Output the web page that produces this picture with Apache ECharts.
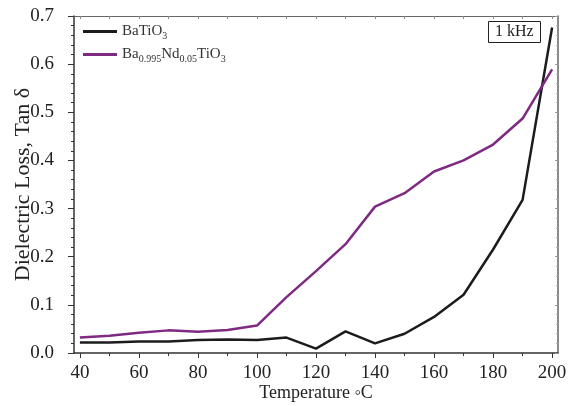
<!DOCTYPE html>
<html>
<head>
<meta charset="utf-8">
<script src="https://cdn.jsdelivr.net/npm/echarts@6/dist/echarts.min.js"></script>
<style>
  html, body { margin: 0; padding: 0; background: #fff; }
  #chart { width: 570px; height: 406px; }
</style>
</head>
<body>
<div id="chart"></div>
<script>
const temps = [40, 50, 60, 70, 80, 90, 100, 110, 120, 130, 140, 150, 160, 170, 180, 190, 200];
const batio3 = [0.022, 0.022, 0.024, 0.024, 0.027, 0.028, 0.027, 0.032, 0.009, 0.045, 0.020, 0.040, 0.075, 0.121, 0.215, 0.318, 0.676];
const ndDoped = [0.032, 0.036, 0.042, 0.047, 0.044, 0.048, 0.057, 0.116, 0.170, 0.226, 0.304, 0.332, 0.377, 0.400, 0.433, 0.487, 0.589];
const xMajorTicks = [40, 60, 80, 100, 120, 140, 160, 180, 200];
const xMinorTicks = [50, 70, 90, 110, 130, 150, 170, 190];
const xAllTicks = [40, 50, 60, 70, 80, 90, 100, 110, 120, 130, 140, 150, 160, 170, 180, 190, 200];
const seriesNames = ['BaTiO3', 'Ba0.995Nd0.05TiO3'];

const font = 'Liberation Serif, Times New Roman, serif';
const axisColor = '#333';

const chart = echarts.init(document.getElementById('chart'));

const legendLabels = {
  'BaTiO3': 'BaTiO{sub|3}',
  'Ba0.995Nd0.05TiO3': 'Ba{sub|0.995}Nd{sub|0.05}TiO{sub|3}'
};

const option = {
  animation: false,
  title: {
    text: '1 kHz',
    left: 488,
    top: 21,
    padding: [2, 7, 3, 7],
    borderColor: '#222',
    borderWidth: 1,
    textStyle: { fontFamily: font, fontSize: 16, fontWeight: 'normal', color: '#222', lineHeight: 17 }
  },
  legend: {
    orient: 'vertical',
    left: 78,
    top: 19,
    itemGap: 6,
    icon: 'rect',
    itemWidth: 34,
    itemHeight: 3,
    data: seriesNames,
    formatter: name => legendLabels[name],
    textStyle: {
      fontFamily: font,
      fontSize: 15,
      color: '#333',
      rich: {
        sub: { fontFamily: font, fontSize: 10, color: '#333', padding: [9, 0, 0, 0] }
      }
    }
  },
  grid: { left: 74, right: 12, top: 16, bottom: 53, outerBoundsMode: 'none', containLabel: false },
  xAxis: [
    {
      type: 'value',
      min: 38,
      max: 202,
      name: 'Temperature ◦C',
      nameLocation: 'middle',
      nameGap: 31,
      nameMoveOverlap: false,
      nameTextStyle: { fontFamily: font, fontSize: 18, color: '#222' },
      axisLine: { lineStyle: { color: axisColor, width: 1.5 } },
      axisTick: { customValues: xMajorTicks, length: 5, lineStyle: { color: axisColor } },
      axisLabel: { customValues: xMajorTicks, fontFamily: font, fontSize: 19, color: '#222', margin: 11 },
      splitLine: { show: false }
    },
    {
      type: 'value',
      min: 38,
      max: 202,
      position: 'bottom',
      axisLine: { show: false },
      axisTick: { customValues: xMinorTicks, length: 3, lineStyle: { color: axisColor } },
      axisLabel: { show: false },
      splitLine: { show: false }
    },
    {
      type: 'value',
      min: 38,
      max: 202,
      position: 'top',
      axisLine: { lineStyle: { color: '#666', width: 1 } },
      axisTick: { customValues: xAllTicks, inside: true, length: 3, lineStyle: { color: '#888' } },
      axisLabel: { show: false },
      splitLine: { show: false }
    }
  ],
  yAxis: [
    {
      type: 'value',
      min: 0,
      max: 0.7,
      interval: 0.1,
      name: 'Dielectric Loss, Tan δ',
      nameLocation: 'middle',
      nameGap: 40,
      nameMoveOverlap: false,
      nameTextStyle: { fontFamily: font, fontSize: 22, color: '#222' },
      axisLine: { show: true, lineStyle: { color: axisColor, width: 1.5 } },
      axisTick: { show: true, length: 6, lineStyle: { color: axisColor } },
      minorTick: { show: true, splitNumber: 5, length: 3, lineStyle: { color: axisColor } },
      axisLabel: { fontFamily: font, fontSize: 19, color: '#222', margin: 20, formatter: v => v.toFixed(1) },
      splitLine: { show: false }
    },
    {
      type: 'value',
      min: 0,
      max: 0.7,
      interval: 0.1,
      position: 'right',
      axisLine: { show: true, lineStyle: { color: '#666', width: 1.5 } },
      axisTick: { show: true, inside: true, length: 3, lineStyle: { color: '#999' } },
      minorTick: { show: true, splitNumber: 5, length: 2, lineStyle: { color: '#aaa' } },
      axisLabel: { show: false },
      splitLine: { show: false }
    }
  ],
  series: [
    {
      name: seriesNames[0],
      type: 'line',
      symbol: 'none',
      color: '#1c1c1c',
      lineStyle: { width: 2.5 },
      data: temps.map((t, i) => [t, batio3[i]])
    },
    {
      name: seriesNames[1],
      type: 'line',
      symbol: 'none',
      color: '#7e2a82',
      lineStyle: { width: 2.5 },
      data: temps.map((t, i) => [t, ndDoped[i]])
    }
  ]
};

chart.setOption(option);
</script>
</body>
</html>
